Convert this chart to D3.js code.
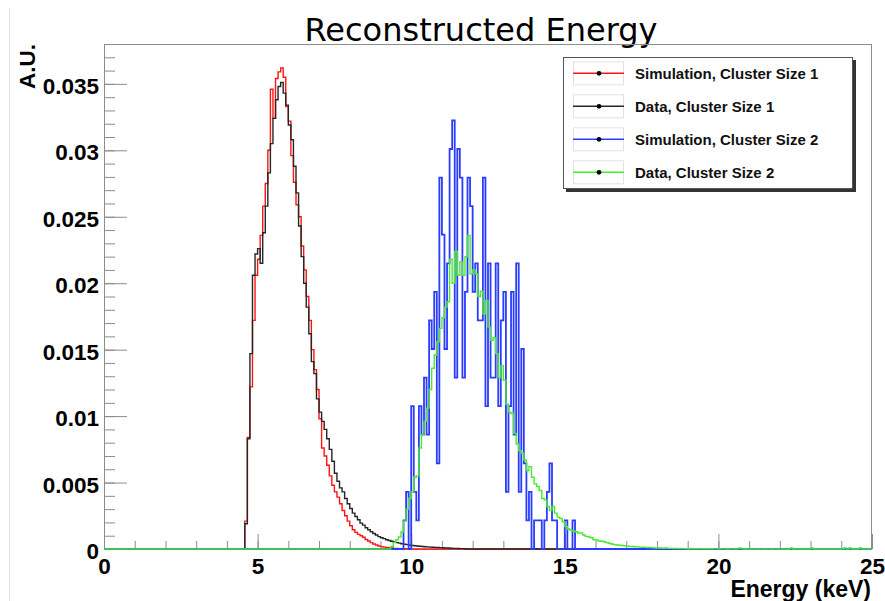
<!DOCTYPE html>
<html><head><meta charset="utf-8">
<script src="https://cdn.jsdelivr.net/npm/d3@7"></script>
<style>
html,body{margin:0;padding:0;background:#fff;}
svg{display:block;}
</style></head><body>
<svg id="chart" width="885" height="601"></svg>
<script>
// ---------- data ----------
const title = "Reconstructed Energy";
const xLabel = "Energy (keV)";
const yLabel = "A.U.";
const nBins = 300;            // 300 bins over 0..25 keV
const xDomain = [0, 25];
const yDomain = [0, 0.038];
const xTickLabels = [0, 5, 10, 15, 20, 25];
const yTickLabels = [0, 0.005, 0.01, 0.015, 0.02, 0.025, 0.03, 0.035];
const seriesNames = ["Simulation, Cluster Size 1", "Data, Cluster Size 1", "Simulation, Cluster Size 2", "Data, Cluster Size 2"];
const seriesColors = ["#ff1414", "#262626", "#2a3cff", "#46ec2c"];

// Simulation, Cluster Size 1 (first bin index 55)
const redStart = 55;
const redValues = [
 0.0021,0.0084,0.0122,0.0172,0.0206,0.0218,0.0236,0.0258,0.0275,0.0300,
 0.0346,0.0324,0.0354,0.0359,0.0362,0.0355,0.0333,0.0322,0.0296,0.0276,
 0.0259,0.0250,0.0228,0.0210,0.0190,0.0172,0.0150,0.0135,0.0120,0.0098,
 0.0076,0.0070,0.0063,0.0055,0.0048,0.0043,0.0039,0.0034,0.0029,0.0025,
 0.0021,0.00175,0.00145,0.00125,0.0011,0.0010,0.00088,0.00072,0.0006,0.00048,
 0.00038,0.0003,0.00023,0.00018,0.00014,0.00011,0.00009,0.00007,0.00005,0.00004,
 0.00003,0.00003,0.00002,0.00002,0.00001,0.00001];

// Data, Cluster Size 1 (first bin index 55)
const blackStart = 55;
const blackValues = [
 0.0019,0.0083,0.0147,0.0206,0.0222,0.0226,0.0215,0.0238,0.0258,0.0283,
 0.0305,0.0324,0.0338,0.0348,0.0351,0.0343,0.0334,0.0319,0.0308,0.0288,
 0.0268,0.0243,0.0220,0.0200,0.0182,0.0162,0.0141,0.0132,0.0113,0.0103,
 0.0096,0.0090,0.0083,0.0075,0.0066,0.0057,0.0051,0.0046,0.0043,0.0038,
 0.0034,0.00305,0.0027,0.00245,0.0022,0.00195,0.0018,0.0016,0.00145,0.0013,
 0.00117,0.00105,0.00093,0.00085,0.00078,0.0007,0.00064,0.00058,0.00053,0.00048,
 0.00044,0.0004,0.00036,0.00033,0.0003,0.00027,0.00025,0.00023,0.00021,0.00019,
 0.00017,0.00016,0.00014,0.00013,0.00012,0.00011,0.0001,0.00009,0.00008,0.00007,
 0.00006,0.00005,0.00005,0.00004,0.00003,0.00003];

// Simulation, Cluster Size 2 (first bin index 117)
const blueStart = 117;
const blueValues = [
 0.00215,0.0043,0,0.01075,0.0043,0.00215,0.01075,0.0086,0.0129,0.0086,
 0.0172,0.01505,0.01935,0.00645,0.02795,0.02365,0.01505,0.0215,0.0301,0.03225,
 0.0129,0.0301,0.02795,0.0129,0.01935,0.02795,0.0258,0.01935,0.0215,0.0172,
 0.0172,0.02795,0.01075,0.0215,0.0129,0.0129,0.0215,0.01075,0.0172,0.01935,
 0.0043,0.01075,0.01935,0.0086,0.0215,0.0043,0.01505,0.00645,0.00215,0.0043,
 0,0.00215,0.00215,0.00215,0,0.00215,0.0043,0.00645,0.00215,0.00215,
 0,0,0,0.00215,0,0,0.00215];

// Data, Cluster Size 2 (first bin index 112)
const greenStart = 112;
const greenValues = [
 0.0002,0.0005,0.0007,0.0009,0.0013,0.0021,0.0030,0.0038,0.0043,0.0054,
 0.0055,0.0076,0.0086,0.0096,0.0106,0.0120,0.0136,0.0146,0.0156,0.0166,
 0.0174,0.0182,0.0186,0.0218,0.0200,0.0224,0.0206,0.0216,0.0206,0.0220,
 0.0236,0.0207,0.0210,0.0207,0.0190,0.0194,0.0177,0.0187,0.0167,0.0157,
 0.0159,0.0147,0.0129,0.0138,0.0127,0.0109,0.0103,0.0102,0.0087,0.0079,
 0.0074,0.0072,0.0067,0.0059,0.0062,0.0054,0.0049,0.0047,0.0044,0.0038,
 0.0037,0.0032,0.0029,0.0032,0.0027,0.0024,0.0023,0.00205,0.0017,0.0015,
 0.0014,0.00135,0.0013,0.0012,0.0012,0.00105,0.00095,0.0009,0.00085,0.0007,
 0.00068,0.0006,0.00058,0.00055,0.00048,0.00043,0.00038,0.00033,0.0003,0.00028,
 0.00026,0.00024,0.00022,0.0002,0.00019,0.00017,0.00016,0.00014,0.00013,0.00012,
 0.00011,0.0001,0.00009,0.00008,0.00008,0.00007,0.00006,0.00007,0.00005,0.00005,
 0.00004,0.00005,0.00003,0.00004,0.00003,0.00003,0.00002,0.00004,0.00002,0.00002,
 0.00003,0.00001,0.00002,0.00002,0.00001,0.00002,0.00001,0.00001,0.00002,0.00001,
 0.00001,0,0.00001,0.00001,0,0.00001,0.00008,0.00001,0,0.00001,
 0,0.00001,0,0,0.00001,0,0,0.00001,0,0,
 0.00001,0,0,0,0,0,0.00007,0,0,0,
 0,0,0,0,0.00007,0,0,0,0,0,
 0,0,0,0,0,0,0,0.00008,0,0.00008,
 0,0,0,0.00008,0,0,0,0];

// ---------- build full histograms ----------
function fullHist(start, vals) {
  const h = new Array(nBins).fill(0);
  vals.forEach((v, i) => { if (start + i < nBins) h[start + i] = v; });
  return h;
}
const hists = [
  fullHist(redStart, redValues),
  fullHist(blackStart, blackValues),
  fullHist(blueStart, blueValues),
  fullHist(greenStart, greenValues)
];
const binW = (xDomain[1] - xDomain[0]) / nBins;

// ---------- layout ----------
const svg = d3.select("#chart");
const L = 104, R = 872, T = 44, B = 549;
const x = d3.scaleLinear().domain(xDomain).range([L, R]);
const y = d3.scaleLinear().domain(yDomain).range([B, T]);
const axisGray = "#8c8c8c";
const boldFont = "'Liberation Sans', Arial, Helvetica, sans-serif";

// faint pad edge
svg.append("line").attr("x1", 9.5).attr("x2", 9.5).attr("y1", 8).attr("y2", 601)
  .attr("stroke", "#e4e4e4").attr("stroke-width", 1);

// title
svg.append("text").attr("x", 481).attr("y", 41).attr("text-anchor", "middle")
  .attr("font-family", "'DejaVu Sans', Verdana, sans-serif").attr("font-size", 32)
  .attr("fill", "#000").text(title);

// frame
svg.append("rect").attr("x", L + 0.5).attr("y", T + 0.5).attr("width", R - L - 1).attr("height", B - T)
  .attr("fill", "none").attr("stroke", axisGray).attr("stroke-width", 1);

// y axis: minor + major ticks
const yMinor = d3.range(0, 0.0381, 0.001).map(v => +v.toFixed(4));
svg.append("g").attr("transform", `translate(${L},0)`)
  .call(d3.axisLeft(y).tickValues(yMinor).tickSize(-11).tickFormat(""))
  .call(g => g.select(".domain").remove())
  .call(g => g.selectAll("line").attr("stroke", axisGray));
const yAx = svg.append("g").attr("transform", `translate(${L},0)`)
  .call(d3.axisLeft(y).tickValues(yTickLabels).tickSize(-23).tickPadding(5)
    .tickFormat(d => String(+d.toFixed(3))));
yAx.select(".domain").remove();
yAx.selectAll("line").attr("stroke", axisGray);
yAx.selectAll("text").attr("font-family", boldFont).attr("font-weight", "bold")
  .attr("font-size", 22.5).attr("fill", "#000").attr("dy", "0.42em");

// x axis: minor + major ticks
const xMinor = d3.range(0, 25.01, 1);
svg.append("g").attr("transform", `translate(0,${B})`)
  .call(d3.axisBottom(x).tickValues(xMinor).tickSize(-8).tickFormat(""))
  .call(g => g.select(".domain").remove())
  .call(g => g.selectAll("line").attr("stroke", axisGray));
const xAx = svg.append("g").attr("transform", `translate(0,${B})`)
  .call(d3.axisBottom(x).tickValues(xTickLabels).tickSize(-15).tickPadding(9).tickFormat(d3.format("d")));
xAx.select(".domain").remove();
xAx.selectAll("line").attr("stroke", axisGray);
xAx.selectAll("text").attr("font-family", boldFont).attr("font-weight", "bold")
  .attr("font-size", 22.5).attr("fill", "#000");

// axis titles
svg.append("text").attr("transform", `translate(35,${T}) rotate(-90)`)
  .attr("text-anchor", "end").attr("font-family", boldFont).attr("font-weight", "bold")
  .attr("font-size", 22.5).attr("fill", "#000").text(yLabel);
svg.append("text").attr("x", 871).attr("y", 597).attr("text-anchor", "end")
  .attr("font-family", boldFont).attr("font-weight", "bold").attr("font-size", 23)
  .attr("fill", "#000").text(xLabel);

// histograms (step outlines)
const stepLine = d3.line().x(d => x(d[0])).y(d => y(d[1])).curve(d3.curveStepAfter);
const widths = [1.4, 1.4, 1.8, 1.4];
hists.forEach((h, si) => {
  const pts = h.map((v, i) => [xDomain[0] + i * binW, v]);
  pts.push([xDomain[1], h[nBins - 1]]);
  svg.append("path").datum(pts).attr("d", stepLine)
    .attr("fill", "none").attr("stroke", seriesColors[si])
    .attr("stroke-width", widths[si]).attr("stroke-linejoin", "miter");
});

// legend
const lg = svg.append("g");
lg.append("rect").attr("x", 566).attr("y", 60).attr("width", 290).attr("height", 132).attr("fill", "#333");
lg.append("rect").attr("x", 563.5).attr("y", 57.5).attr("width", 289).attr("height", 131)
  .attr("fill", "#fff").attr("stroke", "#555").attr("stroke-width", 1);
const rowY = [73.3, 106.3, 139.3, 172.3];
seriesNames.forEach((name, i) => {
  const cy = rowY[i];
  lg.append("rect").attr("x", 573.5).attr("y", cy - 11.5).attr("width", 50).attr("height", 23)
    .attr("fill", "none").attr("stroke", "#e2e2e2").attr("stroke-width", 1);
  lg.append("line").attr("x1", 573).attr("x2", 624).attr("y1", cy).attr("y2", cy)
    .attr("stroke", seriesColors[i]).attr("stroke-width", 1.4);
  lg.append("circle").attr("cx", 599).attr("cy", cy).attr("r", 2.4).attr("fill", "#000");
  lg.append("text").attr("x", 635).attr("y", cy).attr("dy", "0.36em")
    .attr("font-family", boldFont).attr("font-weight", "bold").attr("font-size", 15)
    .attr("fill", "#111").text(name);
});
</script>
</body></html>
